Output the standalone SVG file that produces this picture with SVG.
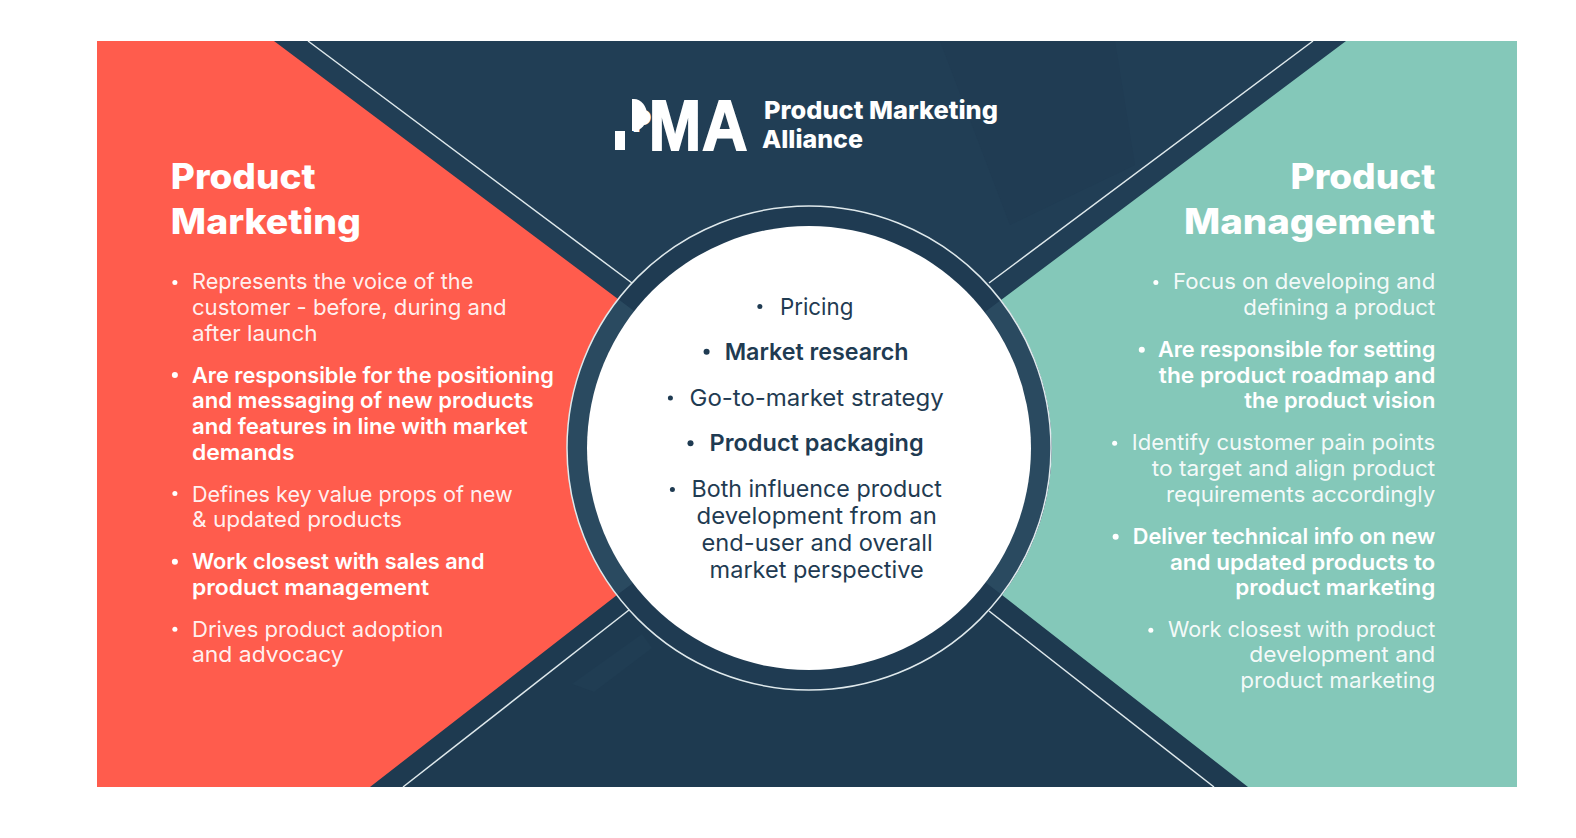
<svg xmlns="http://www.w3.org/2000/svg" width="1576" height="838" viewBox="0 0 1576 838">
<style>
text{font-family:Inter,"Noto Sans","Liberation Sans",sans-serif}
.t{font-size:35px;font-weight:800;fill:#fff}
.b{font-size:22px;font-weight:400;fill:#fff;fill-opacity:.93}
.s{font-size:22px;font-weight:600;fill:#fff}
.c{font-size:23px;font-weight:400;fill:#1f3b52}
.cs{font-size:23px;font-weight:600;fill:#1f3b52}
.l{font-size:25px;font-weight:800;fill:#fff}
.w{fill:#fff}
.d{fill:#1f3b52}
.ln{stroke:#dfe9ec;stroke-width:1.5;fill:none}
.mark{font-size:70px;font-weight:700;fill:#fff;stroke:#fff;stroke-width:1.8;font-family:"Liberation Sans",sans-serif}
</style>
<rect width="1576" height="838" fill="#fff"/>
<g id="background">
<rect x="97" y="41" width="1420" height="746" fill="#1e3a50"/>
<polygon points="274,41 1346,41 1001,300 809,448 618,299" fill="#213e55"/>
<polygon points="940,41 1115,41 1135,165 1010,225" fill="#203c53"/>
<polygon points="572,684 642,634 652,648 594,692" fill="#203d53"/>
</g>
<g id="product-marketing-panel">
<path d="M97 41H274L618 299A242 242 0 0 0 617 595L370 787H97Z" fill="#ff5c4d"/>
</g>
<g id="product-management-panel">
<path d="M1517 41H1346L1001 300A242 242 0 0 1 1002 595L1248 787H1517Z" fill="#84c8b9"/>
</g>
<g id="connectors">
<line class="ln" x1="308" y1="41" x2="632" y2="283"/>
<line class="ln" x1="1313" y1="41" x2="989" y2="283"/>
<line class="ln" x1="403" y1="787" x2="629" y2="610"/>
<line class="ln" x1="1214" y1="787" x2="989" y2="611"/>
</g>
<g id="centre-circle">
<circle cx="809" cy="448" r="242" fill="#1f3b52"/>
<path d="M618 299A242 242 0 0 0 617 595L633 583A222 222 0 0 1 634 311Z" fill="#2a4a60"/>
<path d="M1001 300A242 242 0 0 1 1002 595L985 582A222 222 0 0 0 985 312Z" fill="#2a4a60"/>
<circle cx="809" cy="448" r="242" fill="none" stroke="#dfe9ec" stroke-width="1.5"/>
<circle cx="809" cy="448" r="222" class="w"/>
</g>
<g id="logo">
<rect x="615" y="131" width="10" height="19" class="w"/>
<text class="mark" transform="translate(0,150) scale(.9,1)"><tspan x="703" y="-19" font-size="30">P</tspan><tspan x="720.7" y="0">M</tspan><tspan x="780" y="0">A</tspan></text>
<path d="M632 99H634A13 16 0 0 1 634 131H632Z" class="w"/>
<text class="l" x="764" y="119" textLength="234" lengthAdjust="spacingAndGlyphs">Product Marketing</text>
<text class="l" x="762" y="148" textLength="101" lengthAdjust="spacingAndGlyphs">Alliance</text>
</g>
<g transform="scale(1.0051)">
<g id="centre-text">
<circle cx="756" cy="305" r="2.5" class="d"/><text class="c" x="776" y="313" textLength="73" lengthAdjust="spacingAndGlyphs">Pricing</text>
<circle cx="703" cy="350" r="3" class="d"/><text class="cs" x="721" y="358" textLength="183" lengthAdjust="spacingAndGlyphs">Market research</text>
<circle cx="667" cy="396" r="2.5" class="d"/><text class="c" x="686" y="404" textLength="253" lengthAdjust="spacingAndGlyphs">Go-to-market strategy</text>
<circle cx="687" cy="441" r="3" class="d"/><text class="cs" x="706" y="449" textLength="213" lengthAdjust="spacingAndGlyphs">Product packaging</text>
<circle cx="669" cy="487" r="2.5" class="d"/><text class="c" x="688" y="494" textLength="249" lengthAdjust="spacingAndGlyphs">Both influence product</text>
<text class="c" x="693" y="521" textLength="239" lengthAdjust="spacingAndGlyphs">development from an</text>
<text class="c" x="698" y="548" textLength="230" lengthAdjust="spacingAndGlyphs">end-user and overall</text>
<text class="c" x="706" y="575" textLength="213" lengthAdjust="spacingAndGlyphs">market perspective</text>
</g>
<g id="marketing-text">
<text class="t" x="170" y="188" textLength="144" lengthAdjust="spacingAndGlyphs">Product</text>
<text class="t" x="170" y="233" textLength="189" lengthAdjust="spacingAndGlyphs">Marketing</text>
<g class="w"><circle cx="174" cy="281" r="2.5"/><circle cx="174" cy="373" r="3"/><circle cx="174" cy="491" r="2.5"/><circle cx="174" cy="559" r="3"/><circle cx="174" cy="626" r="2.5"/></g>
<text class="b" x="191" y="288" textLength="280" lengthAdjust="spacingAndGlyphs">Represents the voice of the</text>
<text class="b" x="191" y="313" textLength="313" lengthAdjust="spacingAndGlyphs">customer - before, during and</text>
<text class="b" x="191" y="339" textLength="125" lengthAdjust="spacingAndGlyphs">after launch</text>
<text class="s" x="191" y="381" textLength="360" lengthAdjust="spacingAndGlyphs">Are responsible for the positioning</text>
<text class="s" x="191" y="406" textLength="340" lengthAdjust="spacingAndGlyphs">and messaging of new products</text>
<text class="s" x="191" y="432" textLength="334" lengthAdjust="spacingAndGlyphs">and features in line with market</text>
<text class="s" x="191" y="458" textLength="102" lengthAdjust="spacingAndGlyphs">demands</text>
<text class="b" x="191" y="499" textLength="319" lengthAdjust="spacingAndGlyphs">Defines key value props of new</text>
<text class="b" x="191" y="524" textLength="209" lengthAdjust="spacingAndGlyphs">&amp; updated products</text>
<text class="s" x="191" y="566" textLength="291" lengthAdjust="spacingAndGlyphs">Work closest with sales and</text>
<text class="s" x="191" y="592" textLength="236" lengthAdjust="spacingAndGlyphs">product management</text>
<text class="b" x="191" y="634" textLength="250" lengthAdjust="spacingAndGlyphs">Drives product adoption</text>
<text class="b" x="191" y="659" textLength="151" lengthAdjust="spacingAndGlyphs">and advocacy</text>
</g>
<g id="management-text">
<text class="t" x="1284" y="188" textLength="144" lengthAdjust="spacingAndGlyphs">Product</text>
<text class="t" x="1178" y="233" textLength="250" lengthAdjust="spacingAndGlyphs">Management</text>
<g class="w"><circle cx="1150" cy="281" r="2.5"/><circle cx="1136" cy="348" r="3"/><circle cx="1109" cy="441" r="2.5"/><circle cx="1110" cy="534" r="3"/><circle cx="1145" cy="627" r="2.5"/></g>
<text class="b" x="1167" y="288" textLength="261" lengthAdjust="spacingAndGlyphs">Focus on developing and</text>
<text class="b" x="1237" y="313" textLength="191" lengthAdjust="spacingAndGlyphs">defining a product</text>
<text class="s" x="1152" y="355" textLength="276" lengthAdjust="spacingAndGlyphs">Are responsible for setting</text>
<text class="s" x="1153" y="381" textLength="275" lengthAdjust="spacingAndGlyphs">the product roadmap and</text>
<text class="s" x="1238" y="406" textLength="190" lengthAdjust="spacingAndGlyphs">the product vision</text>
<text class="b" x="1126" y="448" textLength="302" lengthAdjust="spacingAndGlyphs">Identify customer pain points</text>
<text class="b" x="1146" y="474" textLength="282" lengthAdjust="spacingAndGlyphs">to target and align product</text>
<text class="b" x="1160" y="499" textLength="268" lengthAdjust="spacingAndGlyphs">requirements accordingly</text>
<text class="s" x="1127" y="541" textLength="301" lengthAdjust="spacingAndGlyphs">Deliver technical info on new</text>
<text class="s" x="1164" y="567" textLength="264" lengthAdjust="spacingAndGlyphs">and updated products to</text>
<text class="s" x="1229" y="592" textLength="199" lengthAdjust="spacingAndGlyphs">product marketing</text>
<text class="b" x="1162" y="634" textLength="266" lengthAdjust="spacingAndGlyphs">Work closest with product</text>
<text class="b" x="1243" y="659" textLength="185" lengthAdjust="spacingAndGlyphs">development and</text>
<text class="b" x="1234" y="685" textLength="194" lengthAdjust="spacingAndGlyphs">product marketing</text>
</g>
</g>
</svg>
